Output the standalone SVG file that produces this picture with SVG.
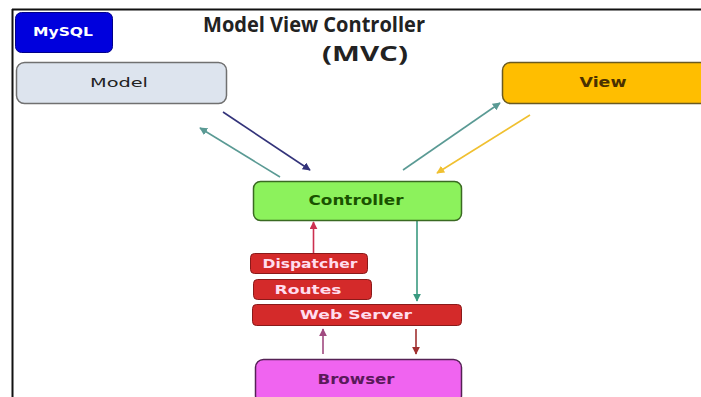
<svg xmlns="http://www.w3.org/2000/svg" width="701" height="397" viewBox="0 0 701 397">
<defs>
<style>
.lbl{font-family:"DejaVu Sans","Liberation Sans",sans-serif;text-anchor:middle;dominant-baseline:central}
.title{font-family:"Open Sans","DejaVu Sans",sans-serif;font-weight:700;font-size:22px;fill:#222;text-anchor:middle}
.con{fill:none;stroke-width:1.6}
</style>
<marker id="mNavy" viewBox="0 0 10 10" refX="9" refY="5" markerWidth="5" markerHeight="5" orient="auto"><path d="M0,0L10,5L0,10z" fill="#33337a"/></marker>
<marker id="mTeal" viewBox="0 0 10 10" refX="9" refY="5" markerWidth="5" markerHeight="5" orient="auto"><path d="M0,0L10,5L0,10z" fill="#5a9a94"/></marker>
<marker id="mGold" viewBox="0 0 10 10" refX="9" refY="5" markerWidth="5" markerHeight="5" orient="auto"><path d="M0,0L10,5L0,10z" fill="#f0c030"/></marker>
<marker id="mRed" viewBox="0 0 10 10" refX="9" refY="5" markerWidth="5" markerHeight="5" orient="auto"><path d="M0,0L10,5L0,10z" fill="#cc3050"/></marker>
<marker id="mGreen" viewBox="0 0 10 10" refX="9" refY="5" markerWidth="5" markerHeight="5" orient="auto"><path d="M0,0L10,5L0,10z" fill="#3a9a80"/></marker>
<marker id="mPurp" viewBox="0 0 10 10" refX="9" refY="5" markerWidth="5" markerHeight="5" orient="auto"><path d="M0,0L10,5L0,10z" fill="#a04a80"/></marker>
<marker id="mBrown" viewBox="0 0 10 10" refX="9" refY="5" markerWidth="5" markerHeight="5" orient="auto"><path d="M0,0L10,5L0,10z" fill="#a03030"/></marker>
</defs>
<rect x="0" y="0" width="701" height="397" fill="#fff"/>
<g id="frame">
<line x1="12" y1="9.5" x2="701" y2="9.5" stroke="#111" stroke-width="2"/>
<line x1="12.5" y1="9" x2="12.5" y2="397" stroke="#111" stroke-width="2"/>
</g>
<g id="title">
<text class="title" x="314" y="32" textLength="222" lengthAdjust="spacingAndGlyphs">Model View Controller</text>
<text class="title" x="365" y="61" textLength="86" lengthAdjust="spacingAndGlyphs">(MVC)</text>
</g>
<g id="connectors">
<line class="con" x1="223" y1="112" x2="310" y2="170" stroke="#33337a" marker-end="url(#mNavy)"/>
<line class="con" x1="280" y1="177" x2="200" y2="128" stroke="#5a9a94" marker-end="url(#mTeal)"/>
<line class="con" x1="403" y1="170" x2="500" y2="103" stroke="#5a9a94" marker-end="url(#mTeal)"/>
<line class="con" x1="530" y1="115" x2="437" y2="173" stroke="#f0c030" marker-end="url(#mGold)"/>
<line class="con" x1="313.5" y1="253" x2="313.5" y2="222" stroke="#cc3050" marker-end="url(#mRed)"/>
<line class="con" x1="417" y1="221" x2="417" y2="301" stroke="#3a9a80" marker-end="url(#mGreen)"/>
<line class="con" x1="323" y1="354" x2="323" y2="329" stroke="#a04a80" marker-end="url(#mPurp)"/>
<line class="con" x1="416" y1="329" x2="416" y2="354" stroke="#a03030" marker-end="url(#mBrown)"/>
</g>
<g id="mysql">
<rect x="15.5" y="12.5" width="97" height="40" rx="6" fill="#0000dd" stroke="#000088"/>
<text class="lbl" x="63" y="32" font-size="12" font-weight="700" fill="#fff" textLength="60" lengthAdjust="spacingAndGlyphs">MySQL</text>
</g>
<g id="model">
<rect x="16.5" y="62.5" width="210" height="41" rx="8" fill="#dde4ee" stroke="#707070" stroke-width="1.5"/>
<text class="lbl" x="119" y="82" font-size="13" fill="#222" textLength="58" lengthAdjust="spacingAndGlyphs">Model</text>
</g>
<g id="view">
<rect x="502.5" y="62.5" width="210" height="41" rx="8" fill="#ffbe00" stroke="#6a5a20" stroke-width="1.5"/>
<text class="lbl" x="603" y="82" font-size="14" font-weight="700" fill="#4a3000" textLength="47" lengthAdjust="spacingAndGlyphs">View</text>
</g>
<g id="controller">
<rect x="253.5" y="181.5" width="208" height="39" rx="7" fill="#8cf25c" stroke="#3a6a22" stroke-width="1.5"/>
<text class="lbl" x="356" y="200" font-size="14" font-weight="700" fill="#1a5200" textLength="95" lengthAdjust="spacingAndGlyphs">Controller</text>
</g>
<g id="dispatcher">
<rect x="250.5" y="253.5" width="117" height="20" rx="4" fill="#d42a2a" stroke="#8a1a1a"/>
<text class="lbl" x="310" y="263.5" font-size="12" font-weight="700" fill="#fde" textLength="95" lengthAdjust="spacingAndGlyphs">Dispatcher</text>
</g>
<g id="routes">
<rect x="253.5" y="279.5" width="118" height="20" rx="4" fill="#d42a2a" stroke="#8a1a1a"/>
<text class="lbl" x="308" y="289.5" font-size="12" font-weight="700" fill="#fde" textLength="67" lengthAdjust="spacingAndGlyphs">Routes</text>
</g>
<g id="webserver">
<rect x="252.5" y="304.5" width="209" height="21" rx="4" fill="#d42a2a" stroke="#8a1a1a"/>
<text class="lbl" x="356" y="315" font-size="12" font-weight="700" fill="#fde" textLength="112" lengthAdjust="spacingAndGlyphs">Web Server</text>
</g>
<g id="browser">
<rect x="255.5" y="359.5" width="206" height="44" rx="8" fill="#f064f0" stroke="#552255" stroke-width="1.5"/>
<text class="lbl" x="356" y="379" font-size="14" font-weight="700" fill="#5a1a5a" textLength="77" lengthAdjust="spacingAndGlyphs">Browser</text>
</g>
</svg>
